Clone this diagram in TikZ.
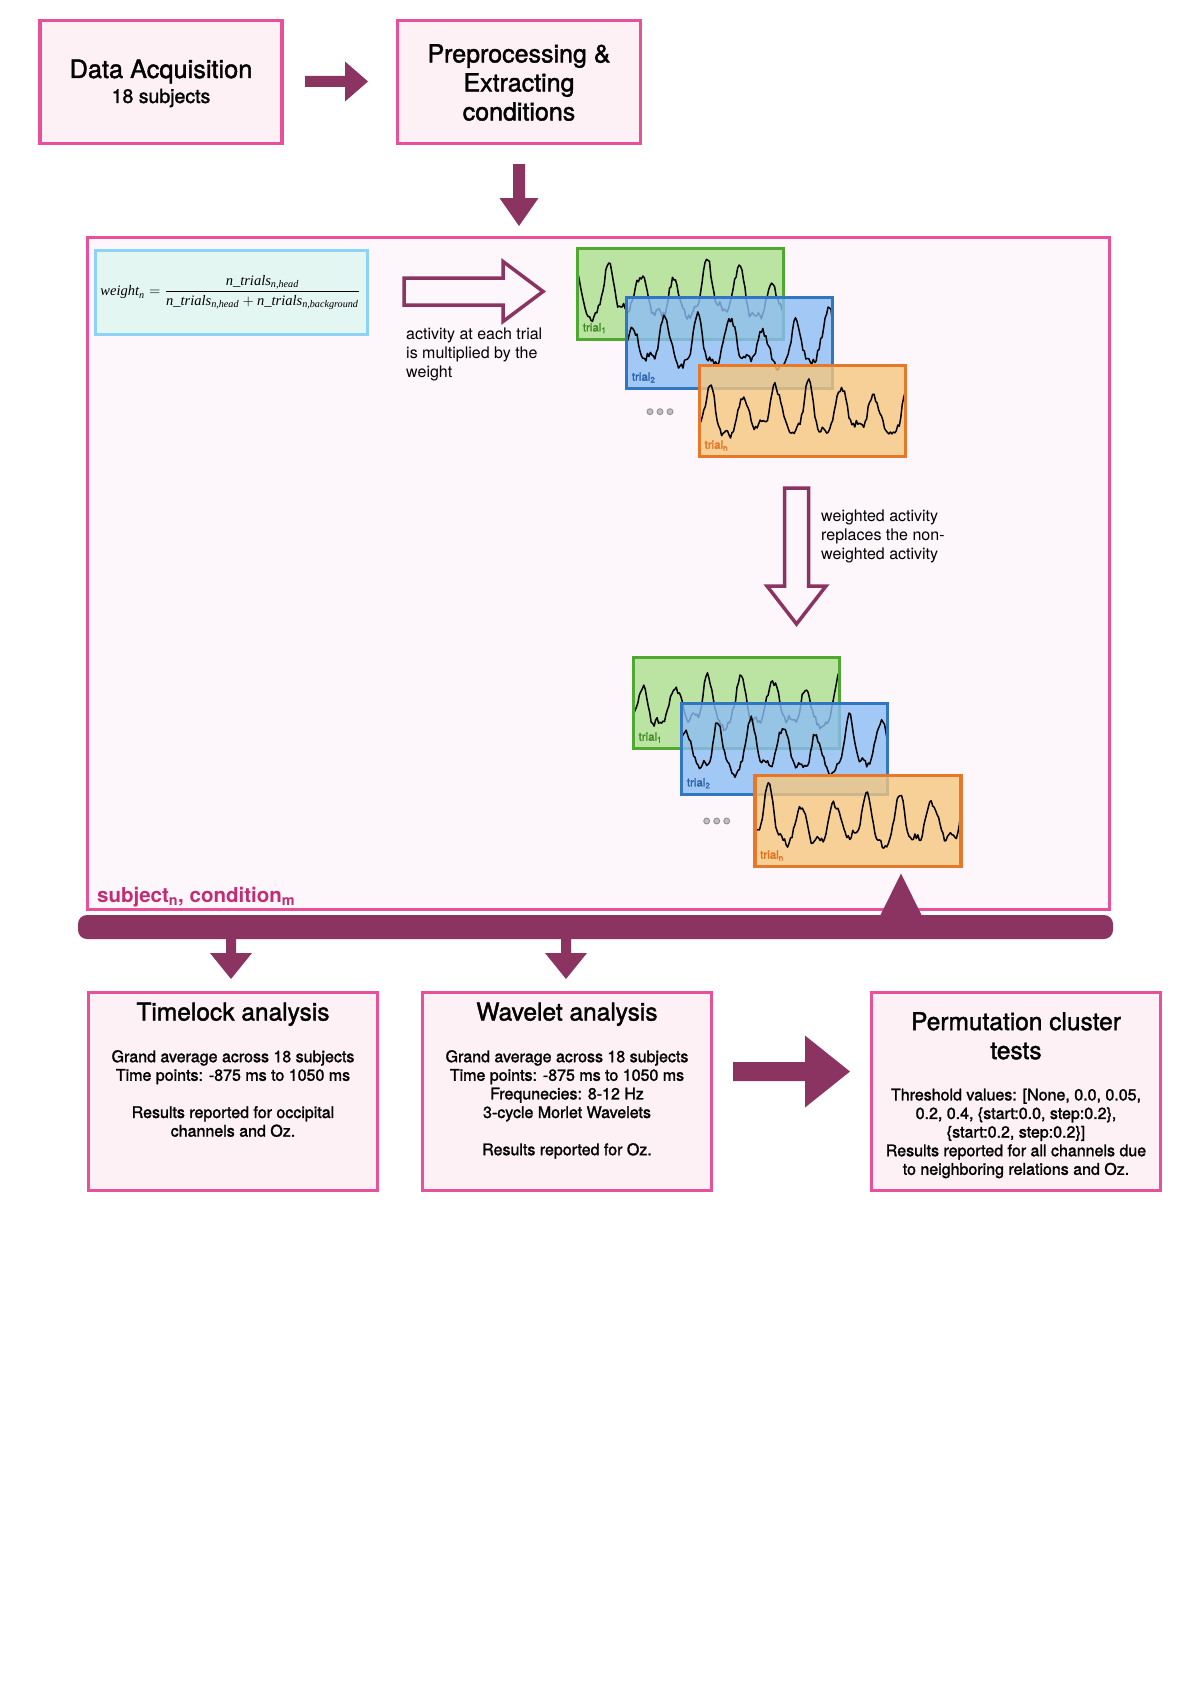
\documentclass[tikz,border=0pt]{standalone}
\usepackage{fontspec}
\usepackage{amsmath}
\setmainfont{TeX Gyre Heros}
\newfontfamily\medf[FakeBold=1.6]{TeX Gyre Heros}
\newfontfamily\tms{Liberation Serif}
\usepackage{graphicx}
\definecolor{pinkB}{HTML}{E9509A}
\definecolor{pinkF}{HTML}{FDF1F5}
\definecolor{bigF}{HTML}{FDF6FA}
\definecolor{maroon}{HTML}{8C3461}
\definecolor{subj}{HTML}{C12D73}
\definecolor{fBord}{HTML}{8DD3F7}
\definecolor{fFill}{HTML}{E4F6F1}
\definecolor{greenF}{HTML}{ABDF8B}
\definecolor{greenB}{HTML}{4FA830}
\definecolor{greenT}{HTML}{3E8A24}
\definecolor{blueF}{HTML}{8CBDF6}
\definecolor{blueB}{HTML}{3276C2}
\definecolor{blueT}{HTML}{2A62A6}
\definecolor{orangeF}{HTML}{F5C77E}
\definecolor{orangeB}{HTML}{E6782C}
\definecolor{orangeT}{HTML}{E46E1E}

% trial box: x y colourprefix subscript seed phase
\newcommand\trialbox[6]{%
  \pgfmathsetseed{#5}%
  \fill[#3F, fill opacity=0.8] (#1,#2) rectangle ++(206,91);
  \begin{scope}
    \clip (#1,#2) rectangle ++(206,91);
    \draw[black, line width=1.5pt, line join=round]
      plot[domain=0:1, samples=140]
      ({#1+206*\x},{#2+91*(0.70-0.56*(0.82+0.18*sin(360*1.7*\x+2*#6))*(0.5+0.5*cos(360*6.3*\x+#6))^2.2+0.05*sin(360*2.3*\x+3*#6)+0.03*sin(360*17*\x+#6)+0.035*rand)});
  \end{scope}
  \draw[#3B, line width=3.3pt] (#1,#2) rectangle ++(206,91);
  \node[anchor=base west, text=#3T, font=\medf\fontsize{11.5}{13}\selectfont, inner sep=0] (lab#5) at ({#1+5},{#2+83}) {trial\textsubscript{#4}};
}
% solid right arrow: x1 x2 y halfshaft halfhead headlength
\newcommand\rarr[6]{%
  \fill[maroon] ({#1},{#3-#4}) -- ({#2-#6},{#3-#4}) -- ({#2-#6},{#3-#5}) -- ({#2},{#3}) -- ({#2-#6},{#3+#5}) -- ({#2-#6},{#3+#4}) -- ({#1},{#3+#4}) -- cycle;}
% solid down arrow: x y1 y2 halfshaft halfhead headlength
\newcommand\darr[6]{%
  \fill[maroon] ({#1-#4},{#2}) -- ({#1-#4},{#3-#6}) -- ({#1-#5},{#3-#6}) -- ({#1},{#3}) -- ({#1+#5},{#3-#6}) -- ({#1+#4},{#3-#6}) -- ({#1+#4},{#2}) -- cycle;}
\newcommand\ti[1]{\text{\tms\itshape #1}}

\begin{document}
\begin{tikzpicture}[x=1pt,y=-1pt,
  box/.style={draw=pinkB, fill=pinkF, line width=3.2pt, inner sep=0},
  ttl/.style={font=\medf\fontsize{24.5}{29}\selectfont, inner sep=0, align=center},
  body/.style={font=\medf\fontsize{16}{18.6}\selectfont, inner sep=0, align=center},
  txt/.style={font=\fontsize{16}{19}\selectfont, inner sep=0, align=left},
  hollow/.style={draw=maroon, line width=3.5pt, fill=bigF, line join=miter}]
\fill[white] (0,0) rectangle (1190,1683);
\useasboundingbox (0,0) rectangle (1190,1683);

% top row
\node[box, minimum width=242, minimum height=123] (da) at (161,82) {};
\node[ttl, anchor=base, font=\medf\fontsize{25.3}{29}\selectfont] (daT) at (161,78) {Data Acquisition};
\node[anchor=base, font=\medf\fontsize{19.5}{24}\selectfont, inner sep=0] (daS) at (161,103) {18 subjects};
\node[box, minimum width=243, minimum height=123] (pp) at (519,82) {};
\node[ttl, anchor=north, font=\medf\fontsize{25}{29}\selectfont] (ppT) at (519,44) {Preprocessing \&\\Extracting\\conditions};
\rarr{305}{368}{81.5}{5.5}{20}{23}
\darr{519}{164}{226}{6}{19.5}{28}

% big box
\node[draw=pinkB, fill=bigF, line width=3pt, minimum width=1022, minimum height=672, inner sep=0] (big) at (598.5,573.5) {};
\node[draw=fBord, fill=fFill, line width=3pt, minimum width=272, minimum height=84, inner sep=0] (fb) at (231.5,292) {};
\node[inner sep=0] (formula) at (230.5,292.5) {\resizebox{260pt}{!}{$\ti{weight}_{\ti{n}}=\dfrac{\ti{n\_trials}_{\ti{n,head}}}{\ti{n\_trials}_{\ti{n,head}}+\ti{n\_trials}_{\ti{n,background}}}$}};

\draw[hollow] (404,278) -- (503,278) -- (503,261.5) -- (543,291.5) -- (503,321.5) -- (503,305) -- (404,305) -- cycle;
\node[txt, anchor=north west] (t1) at (406,328) {activity at each trial\\is multiplied by the\\weight};

\trialbox{577.7}{248.4}{green}{1}{11}{20}
\trialbox{626.7}{297.7}{blue}{2}{12}{-60}
\trialbox{699.4}{365.7}{orange}{n}{13}{-120}
\foreach \i in {0,1,2} \draw[gray!90, fill=gray!50, line width=0.8pt] (650+10*\i,411.7) circle (3);

\draw[hollow] (784.5,488) -- (808.5,488) -- (808.5,586) -- (826,586) -- (796.5,624) -- (767,586) -- (784.5,586) -- cycle;
\node[txt, anchor=north west] (t2) at (821,510) {weighted activity\\replaces the non-\\weighted activity};

\trialbox{633.4}{657.7}{green}{1}{21}{-100}
\trialbox{681.7}{703.4}{blue}{2}{22}{-40}
\trialbox{755}{775.7}{orange}{n}{23}{-150}
\foreach \i in {0,1,2} \draw[gray!90, fill=gray!50, line width=0.8pt] (706.7+10*\i,821) circle (3);

\node[anchor=base west, inner sep=0, text=subj, font=\bfseries\fontsize{20.5}{23}\selectfont] (subj) at (97,902) {subject\textsubscript{n}, condition\textsubscript{m}};

% bar
\node[fill=maroon, rounded corners=9pt, minimum width=1035, minimum height=24, inner sep=0] (bar) at (595.5,927) {};
\fill[maroon] (901,873.5) -- (923,918) -- (879,918) -- cycle;
\darr{231}{937}{979}{5}{21}{26}
\darr{566}{937}{979}{5}{21}{26}

% bottom row
\node[box, minimum width=289, minimum height=198] (tl) at (233,1091.5) {};
\node[ttl, anchor=base] (tlT) at (233,1020.5) {Timelock analysis};
\node[body, anchor=north] (tlB) at (233,1050) {Grand average across 18 subjects\\Time points: -875 ms to 1050 ms\\[18.6pt]Results reported for occipital\\channels and Oz.};

\node[box, minimum width=289, minimum height=198] (wv) at (567,1091.5) {};
\node[ttl, anchor=base] (wvT) at (567,1020.5) {Wavelet analysis};
\node[body, anchor=north] (wvB) at (567,1050) {Grand average across 18 subjects\\Time points: -875 ms to 1050 ms\\Frequnecies: 8-12 Hz\\3-cycle Morlet Wavelets\\[18.6pt]Results reported for Oz.};

\rarr{733}{850}{1071.5}{9.5}{36}{45}

\node[box, minimum width=289, minimum height=198] (pm) at (1016,1091.5) {};
\node[ttl, anchor=north] (pmT) at (1016,1012) {Permutation cluster\\tests};
\node[body, anchor=north] (pmB) at (1016,1088.5) {Threshold values: [None, 0.0, 0.05,\\0.2, 0.4, \{start:0.0, step:0.2\},\\\{start:0.2, step:0.2\}]\\Results reported for all channels due\\to neighboring relations and Oz.};
\end{tikzpicture}
\end{document}
